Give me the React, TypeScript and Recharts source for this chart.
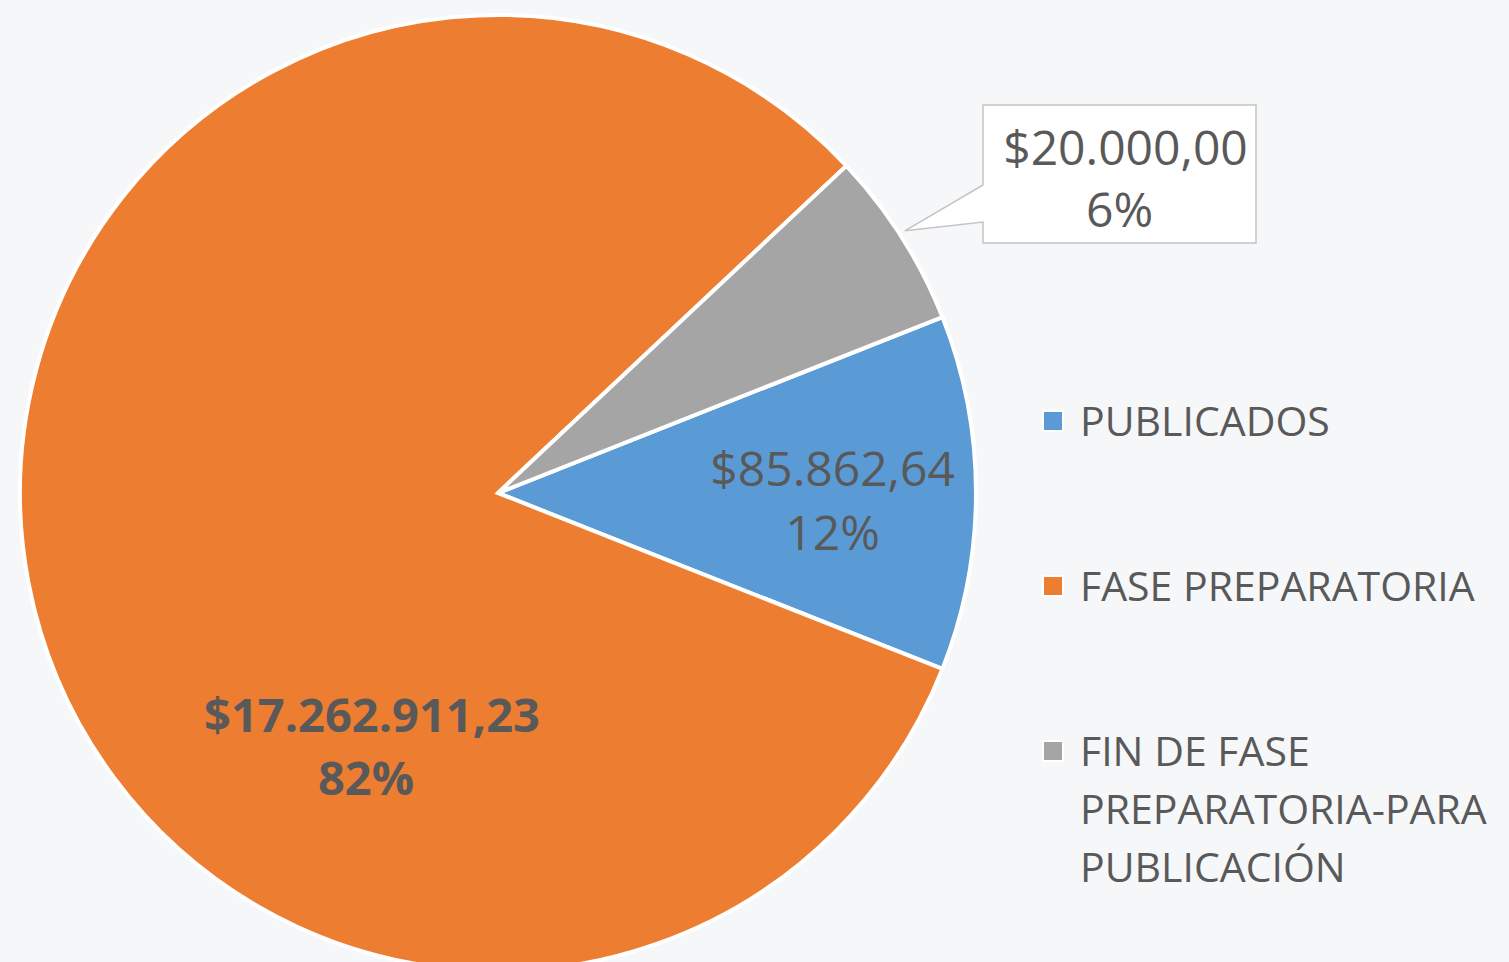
import { PieChart, Pie, Cell, Legend } from 'recharts';

// slice shares (percent) and the amounts shown on the labels
const categories = ['PUBLICADOS', 'FASE PREPARATORIA', 'FIN DE FASE PREPARATORIA-PARA PUBLICACIÓN'];
const shares = [12, 82, 6];
const amounts = ['$85.862,64', '$17.262.911,23', '$20.000,00'];
const percentLabels = ['12%', '82%', '6%'];
const colors = ['#5b9bd5', '#ed7d31', '#a5a5a5'];

const data = categories.map((name, i) => ({ name, value: shares[i] }));

const TEXT = '#595959';
const FONT = '"Open Sans", "Noto Sans", sans-serif';
const RAD = Math.PI / 180;

function renderLabel(props: any) {
  const { cx, cy, midAngle, outerRadius, index } = props;
  const lines = [amounts[index], percentLabels[index]];

  if (index === 0) {
    // inside the blue slice
    const r = outerRadius * 0.7;
    const x = cx + r * Math.cos(-midAngle * RAD);
    const y = cy + r * Math.sin(-midAngle * RAD) + 9;
    return (
      <text x={x} fill={TEXT} fontSize={48} fontFamily={FONT} textAnchor="middle">
        <tspan x={x} y={y - 16}>{lines[0]}</tspan>
        <tspan x={x} y={y + 48}>{lines[1]}</tspan>
      </text>
    );
  }

  if (index === 1) {
    // best-fit spot, low-left in the big slice
    const x = cx - 126;
    const y = cy + 255;
    return (
      <text x={x} fill={TEXT} fontSize={47} fontWeight="bold" fontFamily={FONT} textAnchor="middle">
        <tspan x={x} y={y - 16}>{lines[0]}</tspan>
        <tspan x={x - 6} y={y + 47}>{lines[1]}</tspan>
      </text>
    );
  }

  // callout box for the small gray slice
  const tipR = outerRadius + 6;
  const tx = cx + tipR * Math.cos(-(midAngle + 0.4) * RAD);
  const ty = cy + tipR * Math.sin(-(midAngle + 0.4) * RAD);
  const bx = cx + 485;
  const by = cy - 388;
  const bw = 273;
  const bh = 138;
  const path = `M${bx},${by} L${bx + bw},${by} L${bx + bw},${by + bh} L${bx},${by + bh} L${bx},${by + 117} L${tx},${ty} L${bx},${by + 80} Z`;
  const mx = bx + bw / 2;
  return (
    <g>
      <path d={path} fill="#ffffff" stroke="#c4c4c4" strokeWidth={1.5} />
      <text x={mx} fill={TEXT} fontSize={48} fontFamily={FONT} textAnchor="middle">
        <tspan x={mx + 6} y={by + 60}>{lines[0]}</tspan>
        <tspan x={mx} y={by + 122}>{lines[1]}</tspan>
      </text>
    </g>
  );
}

function renderLegend(props: any) {
  // keep the slice order, not the alphabetical one
  const items = [...(props.payload || [])].sort(
    (a: any, b: any) => categories.indexOf(a.value) - categories.indexOf(b.value)
  );
  return (
    <div style={{ fontFamily: FONT, fontSize: 41, lineHeight: '58px', color: TEXT }}>
      {items.map((entry: any, i: number) => (
        <div key={`item-${i}`} style={{ position: 'relative', paddingLeft: 38, marginBottom: 107, width: 430 }}>
          <span
            style={{
              position: 'absolute',
              left: 0,
              top: 19,
              width: 18,
              height: 18,
              background: colors[categories.indexOf(entry.value)] || entry.color,
              border: '2px solid #ffffff',
            }}
          />
          {entry.value}
        </div>
      ))}
    </div>
  );
}

export default function App() {
  return (
    <div
      style={{
        position: 'fixed',
        left: 0,
        top: 0,
        width: 1509,
        height: 962,
        overflow: 'hidden',
        background: '#f6f7f9',
      }}
    >
      <PieChart width={1509} height={962} margin={{ top: 0, right: 0, bottom: 0, left: 0 }}>
        <Pie
          data={data}
          dataKey="value"
          nameKey="name"
          cx={498}
          cy={493}
          outerRadius={478}
          startAngle={21.6}
          endAngle={-338.4}
          stroke="#ffffff"
          strokeWidth={4}
          label={renderLabel}
          labelLine={false}
          isAnimationActive={false}
        >
          {data.map((d, i) => (
            <Cell key={`cell-${i}`} fill={colors[i]} />
          ))}
        </Pie>
        <Legend
          layout="vertical"
          content={renderLegend}
          wrapperStyle={{ position: 'absolute', left: 1042, top: 391, width: 467 }}
        />
      </PieChart>
    </div>
  );
}
